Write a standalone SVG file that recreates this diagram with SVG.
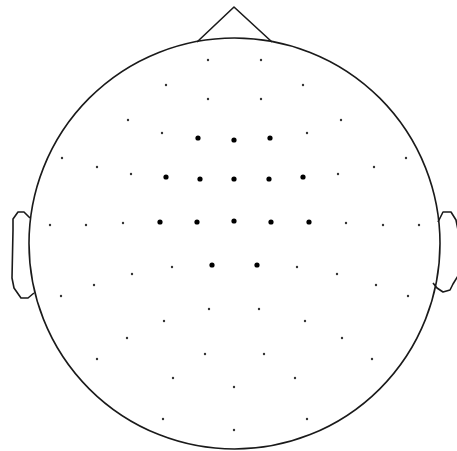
<svg xmlns="http://www.w3.org/2000/svg" width="457" height="451" viewBox="0 0 457 451">
<style>
.ln{fill:none;stroke:#1a1a1a;stroke-width:1.6;stroke-linejoin:round}
.s{fill:#333}
.b{fill:#000}
</style>
<rect width="457" height="451" fill="#fff"/>
<g id="head">
<circle class="ln" cx="234.5" cy="243.5" r="205.5"/>
<polyline id="nose" class="ln" points="197,42 234,7 272,42"/>
<path id="ear-left" class="ln" d="M30,218 L24,212 L18,212 L13,219 L13,230 L12,278 L14,288 L21,298 L28,298 L34,293"/>
<path id="ear-right" class="ln" d="M438,222 L443,212 L451,212 L456,220 L458,230 L458,276 L453,284 L450,290 L443,292 L437,288 L433,283"/>
</g>
<g id="electrodes-small" class="s">
<circle cx="208" cy="60" r="1.2"/><circle cx="261" cy="60" r="1.2"/>
<circle cx="166" cy="85" r="1.2"/><circle cx="303" cy="85" r="1.2"/>
<circle cx="208" cy="99" r="1.2"/><circle cx="261" cy="99" r="1.2"/>
<circle cx="128" cy="120" r="1.2"/><circle cx="341" cy="120" r="1.2"/>
<circle cx="162" cy="133" r="1.2"/><circle cx="307" cy="133" r="1.2"/>
<circle cx="62" cy="158" r="1.2"/><circle cx="406" cy="158" r="1.2"/>
<circle cx="97" cy="167" r="1.2"/><circle cx="374" cy="167" r="1.2"/>
<circle cx="131" cy="174" r="1.2"/><circle cx="338" cy="174" r="1.2"/>
<circle cx="50" cy="225" r="1.2"/><circle cx="86" cy="225" r="1.2"/><circle cx="123" cy="223" r="1.2"/>
<circle cx="346" cy="223" r="1.2"/><circle cx="383" cy="225" r="1.2"/><circle cx="419" cy="225" r="1.2"/>
<circle cx="172" cy="267" r="1.2"/><circle cx="297" cy="267" r="1.2"/>
<circle cx="132" cy="274" r="1.2"/><circle cx="337" cy="274" r="1.2"/>
<circle cx="94" cy="285" r="1.2"/><circle cx="376" cy="285" r="1.2"/>
<circle cx="61" cy="296" r="1.2"/><circle cx="408" cy="296" r="1.2"/>
<circle cx="209" cy="309" r="1.2"/><circle cx="259" cy="309" r="1.2"/>
<circle cx="164" cy="321" r="1.2"/><circle cx="305" cy="321" r="1.2"/>
<circle cx="127" cy="338" r="1.2"/><circle cx="342" cy="338" r="1.2"/>
<circle cx="205" cy="354" r="1.2"/><circle cx="264" cy="354" r="1.2"/>
<circle cx="97" cy="359" r="1.2"/><circle cx="372" cy="359" r="1.2"/>
<circle cx="173" cy="378" r="1.2"/><circle cx="295" cy="378" r="1.2"/>
<circle cx="234" cy="387" r="1.2"/>
<circle cx="163" cy="419" r="1.2"/><circle cx="307" cy="419" r="1.2"/>
<circle cx="234" cy="430" r="1.2"/>
</g>
<g id="electrodes-large" class="b">
<circle cx="198" cy="138" r="2.6"/><circle cx="234" cy="140" r="2.6"/><circle cx="270" cy="138" r="2.6"/>
<circle cx="166" cy="177" r="2.6"/><circle cx="200" cy="179" r="2.6"/><circle cx="234" cy="179" r="2.6"/><circle cx="269" cy="179" r="2.6"/><circle cx="303" cy="177" r="2.6"/>
<circle cx="160" cy="222" r="2.6"/><circle cx="197" cy="222" r="2.6"/><circle cx="234" cy="221" r="2.6"/><circle cx="271" cy="222" r="2.6"/><circle cx="309" cy="222" r="2.6"/>
<circle cx="212" cy="265" r="2.6"/><circle cx="257" cy="265" r="2.6"/>
</g>
</svg>
